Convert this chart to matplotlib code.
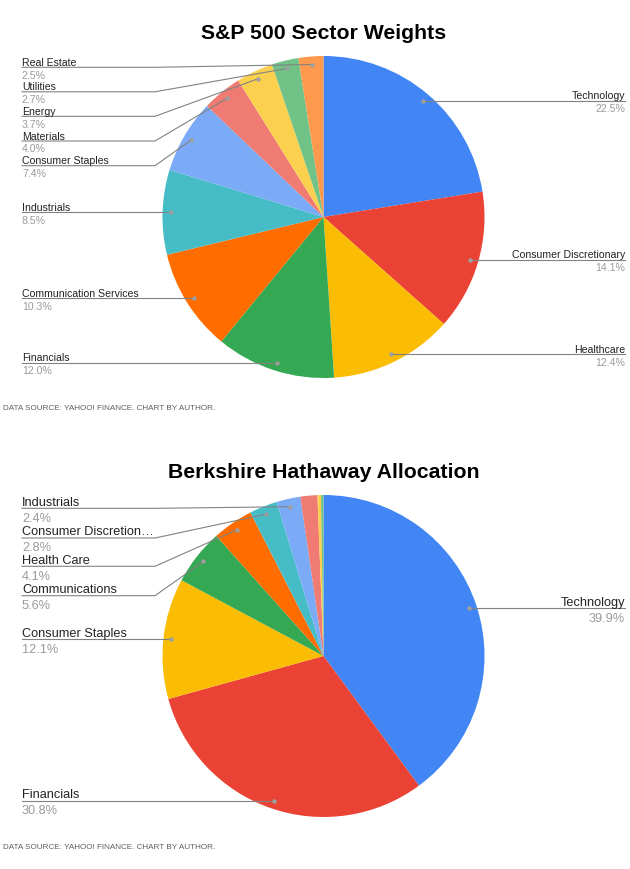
import matplotlib
matplotlib.use("Agg")
import matplotlib.pyplot as plt
from matplotlib import font_manager
import numpy as np

# ---------------- data ----------------
sp_sectors = ["Technology", "Consumer Discretionary", "Healthcare", "Financials",
              "Communication Services", "Industrials", "Consumer Staples",
              "Materials", "Energy", "Utilities", "Real Estate"]
sp_weights = [22.5, 14.1, 12.4, 12.0, 10.3, 8.5, 7.4, 4.0, 3.7, 2.7, 2.5]
sp_colors = ["#4285F4", "#EA4335", "#FBBC04", "#34A853", "#FF6D01", "#46BDC6",
             "#7BAAF7", "#F07B72", "#FCD04F", "#71C287", "#FF994D"]

brk_sectors = ["Technology", "Financials", "Consumer Staples", "Communications",
               "Health Care", "Consumer Discretionary", "Industrials",
               "Energy", "Materials", "Real Estate"]
brk_weights = [39.9, 30.8, 12.1, 5.6, 4.1, 2.8, 2.4, 1.7, 0.35, 0.25]
brk_colors = ["#4285F4", "#EA4335", "#FBBC04", "#34A853", "#FF6D01", "#46BDC6",
              "#7BAAF7", "#F07B72", "#FCD04F", "#71C287"]

sp_title = "S&P 500 Sector Weights"
brk_title = "Berkshire Hathaway Allocation"
source_text = "DATA SOURCE: YAHOO! FINANCE. CHART BY AUTHOR."

# ---------------- layout ----------------
W, H = 630, 870
fig = plt.figure(figsize=(W / 100, H / 100), dpi=100)
fig.patch.set_facecolor("white")
ax = fig.add_axes([0, 0, 1, 1])

FONT = "Liberation Sans"
available = {f.name for f in font_manager.fontManager.ttflist}
if "Liberation Sans Narrow" in available:
    SRC_FONT, SRC_FS = "Liberation Sans Narrow", 6.8
else:
    SRC_FONT, SRC_FS = FONT, 5.9

LINE_C = "#828282"


def Y(y):
    return H - y


def draw_chart(title, sectors, weights, colors, cy, title_base, stacked,
               fs, name_off, pct_off, truncate, source_base):
    cx, R = 323.5, 161
    wedges, _ = ax.pie(weights, colors=colors, startangle=90, counterclock=False,
                       center=(cx, Y(cy)), radius=R,
                       wedgeprops=dict(linewidth=0))
    ax.text(cx, Y(title_base), title, ha="center", va="baseline",
            fontsize=15.3, fontweight="bold", family=FONT, color="#000000")
    for w, name, val in zip(wedges, sectors, weights):
        if val < 2.0:
            continue
        th = np.deg2rad((w.theta1 + w.theta2) / 2)
        px = cx + 0.95 * R * np.cos(th)
        py = Y(cy) + 0.95 * R * np.sin(th)
        label = name
        if truncate and len(name) > 20:
            label = name[:19] + "\u2026"
        if px > cx:
            ly = Y(py)
            ax.plot([px, 625], [py, py], color=LINE_C, lw=0.8, zorder=3)
            ax.text(625, Y(ly - name_off), label, ha="right", va="baseline",
                    fontsize=fs, family=FONT, color="#222222")
            ax.text(625, Y(ly + pct_off), f"{val:.1f}%", ha="right", va="baseline",
                    fontsize=fs, family=FONT, color="#9a9a9a")
        else:
            ly = stacked.get(name, Y(py))
            if abs(Y(ly) - py) > 1.5:
                xs, ys = [22, 155, px], [Y(ly), Y(ly), py]
            else:
                xs, ys = [22, px], [Y(ly), py]
            ax.plot(xs, ys, color=LINE_C, lw=0.8, zorder=3)
            ax.text(22, Y(ly - name_off), label, ha="left", va="baseline",
                    fontsize=fs, family=FONT, color="#222222")
            ax.text(22, Y(ly + pct_off), f"{val:.1f}%", ha="left", va="baseline",
                    fontsize=fs, family=FONT, color="#9a9a9a")
        ax.plot([px], [py], "o", ms=3.2, color="#9e9e9e", mec="none", zorder=4)
    ax.text(3, Y(source_base), source_text, ha="left", va="baseline",
            fontsize=SRC_FS, family=SRC_FONT, color="#5f5f5f")


sp_stack = {"Real Estate": 68.3, "Utilities": 92.8, "Energy": 117.3,
            "Materials": 142.0, "Consumer Staples": 166.7}
brk_stack = {"Industrials": 509.3, "Consumer Discretionary": 539.0,
             "Health Care": 567.3, "Communications": 596.7}

draw_chart(sp_title, sp_sectors, sp_weights, sp_colors, 218, 39, sp_stack,
           7.6, 2.5, 10.5, False, 410)
draw_chart(brk_title, brk_sectors, brk_weights, brk_colors, 657, 478, brk_stack,
           9.2, 3.6, 12.4, True, 849)

ax.set_xlim(0, W)
ax.set_ylim(0, H)
ax.set_aspect("auto")
ax.axis("off")

fig.savefig("out.png", dpi=100, facecolor="white")
